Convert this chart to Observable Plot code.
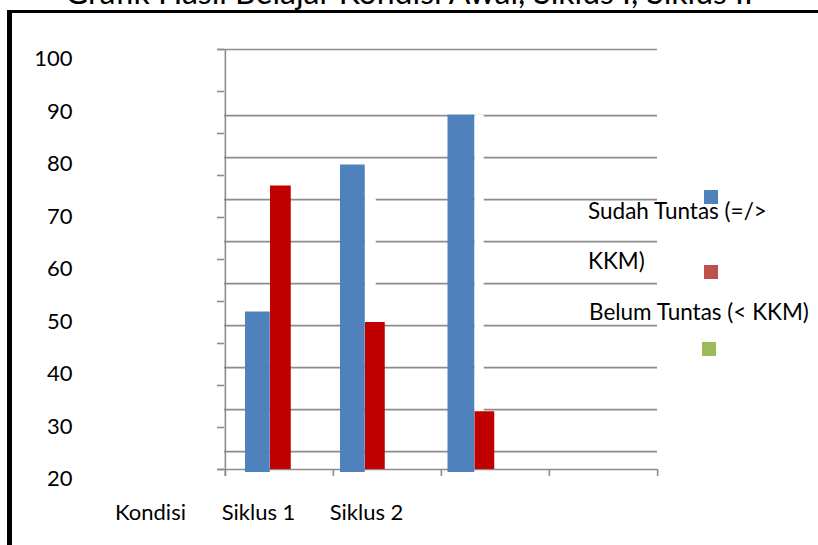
<!DOCTYPE html>
<html>
<head>
<meta charset="utf-8">
<script src="https://cdn.jsdelivr.net/npm/d3@7"></script>
<script src="https://cdn.jsdelivr.net/npm/@observablehq/plot@0.6"></script>
<style>
  body { margin: 0; background: #fff; }
  #wrap { position: relative; width: 818px; height: 545px; overflow: hidden; font-family: Lato, sans-serif; color: #000; }
  #chart { position: absolute; left: 0; top: 0; }
  .frame { position: absolute; background: #000; }
  #title { position: absolute; left: 0px; top: -27px; width: 818px; text-align: center; font-size: 32px; line-height: 1.2; white-space: nowrap; }
  .leg { position: absolute; font-size: 22.5px; white-space: nowrap; line-height: 1; }
  .sw { position: absolute; width: 14px; height: 14px; }
</style>
</head>
<body>
<div id="wrap">
  <div id="chart"></div>
  <div id="title">Grafik Hasil Belajar Kondisi Awal, Siklus I, Siklus II</div>
  <div class="frame" style="left:7px;top:10px;width:811px;height:3px"></div>
  <div class="frame" style="left:7px;top:10px;width:5px;height:535px"></div>
  <div id="legend"></div>
</div>
<script>
// ---- data ----
const categories = ["Kondisi Awal", "Siklus 1", "Siklus 2"];
const axisLabels = ["Kondisi", "Siklus 1", "Siklus 2"];
const sudahTuntas = [50, 78, 87.5];   // Sudah Tuntas (=/> KKM)
const belumTuntas = [74, 48, 31];     // Belum Tuntas (< KKM)
const yTickLabels = [100, 90, 80, 70, 60, 50, 40, 30, 20];
const yMinorTicks = [20, 28, 36, 44, 52, 60, 68, 76, 84, 92, 100];
const gridValues = [87.4, 79.4, 71.4, 63.4, 55.4, 47.4, 39.4, 31.4, 23.4];
const legendLabels = ["Sudah Tuntas (=/>", "KKM)", "Belum Tuntas (< KKM)"];
const legendColors = ["#4f81bd", "#c0504d", "#9bbb59"];

// ---- styles ----
const blue = "#4f81bd", red = "#c00000", grid = "#8c8c8c";
const W = 818, H = 545, mL = 224, mR = 161, mT = 49, mB = 76;
const xDomain = [...categories, "(kosong)"];
const bw = (W - mL - mR) / xDomain.length;
const blueBox = [[20, 25], [7, 25], [6.5, 27]];   // [offset in band, width]
const redBox  = [[45, 21], [32, 20], [33.5, 20]];
const gapBox  = [null, [32, 11], [33.5, 9.5]];
const yBottom = 20 - 7 / 5.25;

const rows = categories.map((c, i) => ({c, i, s: sudahTuntas[i], b: belumTuntas[i], label: axisLabels[i]}));

const marks = [
  Plot.ruleY(gridValues, {stroke: grid, strokeWidth: 1.6}),
  Plot.ruleY([100, 20], {stroke: grid, strokeWidth: 1.6, insetLeft: -7}),
];
rows.forEach(r => {
  if (gapBox[r.i]) {
    const [o, w] = gapBox[r.i];
    marks.push(Plot.barY([r], {x: "c", y1: 20, y2: "s", fill: "#fff", insetLeft: o, insetRight: bw - o - w}));
  }
});
rows.forEach(r => {
  const [bo, bwid] = blueBox[r.i];
  const [ro, rwid] = redBox[r.i];
  marks.push(Plot.barY([r], {x: "c", y1: 20, y2: "s", fill: blue, insetLeft: bo, insetRight: bw - bo - bwid, insetBottom: -3}));
  marks.push(Plot.barY([r], {x: "c", y1: 20, y2: "b", fill: red, insetLeft: ro, insetRight: bw - ro - rwid}));
});
marks.push(
  Plot.ruleX([xDomain[0]], {dx: -bw / 2, y1: yBottom, y2: 100, stroke: grid, strokeWidth: 1.6}),
  Plot.ruleX(xDomain, {dx: -bw / 2, y1: yBottom, y2: 20, stroke: grid, strokeWidth: 1.6}),
  Plot.ruleX([xDomain[xDomain.length - 1]], {dx: bw / 2, y1: yBottom, y2: 20, stroke: grid, strokeWidth: 1.6}),
  Plot.axisY({ticks: yMinorTicks, tickSize: 7, tickFormat: () => "", stroke: grid, strokeWidth: 1.6, label: null}),
  Plot.axisY({ticks: yTickLabels, tickSize: 0, tickPadding: 152, dy: 9.5, fill: "#000", fontSize: 22, label: null}),
  Plot.axisX({ticks: categories, tickSize: 0, tickPadding: 35, dx: -129, fill: "#000", fontSize: 22, label: null,
              tickFormat: d => axisLabels[categories.indexOf(d)]})
);

const chart = Plot.plot({
  width: W, height: H,
  marginLeft: mL, marginRight: mR, marginTop: mT, marginBottom: mB,
  style: {fontFamily: "Lato, sans-serif", fontSize: "22px", background: "transparent", color: "#000"},
  x: {type: "band", domain: xDomain, padding: 0, axis: null, label: null},
  y: {domain: [20, 100], axis: null, label: null},
  marks
});
document.getElementById("chart").appendChild(chart);

// legend (positioned at right, like the reference)
const legend = document.getElementById("legend");
const textTops = [200, 250, 301];
const textLefts = [588, 588, 589];
legendLabels.forEach((t, i) => {
  const d = document.createElement("div");
  d.className = "leg"; d.textContent = t;
  d.style.left = textLefts[i] + "px"; d.style.top = textTops[i] + "px";
  legend.appendChild(d);
});
const swPos = [[704, 190], [704, 265], [702, 342]];
legendColors.forEach((c, i) => {
  const s = document.createElement("div");
  s.className = "sw"; s.style.background = c;
  s.style.left = swPos[i][0] + "px"; s.style.top = swPos[i][1] + "px";
  legend.appendChild(s);
});
</script>
</body>
</html>
